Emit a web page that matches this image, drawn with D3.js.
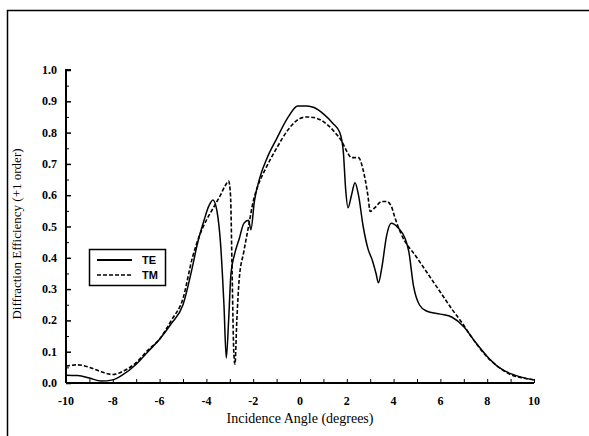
<!DOCTYPE html>
<html>
<head>
<meta charset="utf-8">
<script src="https://cdn.jsdelivr.net/npm/d3@7.9.0/dist/d3.min.js"></script>
<style>
  body { margin: 0; background: #fff; }
  svg { display: block; }
</style>
</head>
<body>
<div id="chart"></div>
<script>
// angles (degrees) and efficiencies
const teAngle = [-10, -9.5, -9, -8.5, -8, -7.6, -7, -6.5, -6, -5.5, -5, -4.6, -4.4, -4.1, -3.9, -3.72, -3.55, -3.4, -3.25, -3.15, -3.05, -2.95, -2.8, -2.6, -2.4, -2.2, -2.1, -1.95, -1.7, -1.4, -1, -0.5, -0.1, 0.3, 0.6, 1, 1.4, 1.7, 1.85, 1.95, 2.05, 2.2, 2.35, 2.5, 2.7, 2.9, 3.1, 3.25, 3.35, 3.5, 3.7, 3.9, 4.2, 4.5, 4.65, 4.85, 5.1, 5.4, 6, 6.5, 7, 7.5, 8, 8.5, 9, 9.5, 10];
const teValue = [0.025, 0.024, 0.016, 0.006, 0.01, 0.025, 0.06, 0.1, 0.14, 0.19, 0.25, 0.37, 0.44, 0.52, 0.565, 0.585, 0.55, 0.45, 0.25, 0.08, 0.2, 0.35, 0.41, 0.46, 0.51, 0.52, 0.49, 0.58, 0.66, 0.72, 0.78, 0.85, 0.885, 0.885, 0.88, 0.86, 0.83, 0.8, 0.74, 0.62, 0.56, 0.6, 0.64, 0.6, 0.5, 0.43, 0.39, 0.35, 0.32, 0.37, 0.47, 0.51, 0.495, 0.46, 0.42, 0.31, 0.25, 0.23, 0.22, 0.21, 0.18, 0.13, 0.085, 0.05, 0.03, 0.018, 0.01];

const tmAngle = [-10, -9.5, -9, -8.5, -8, -7.5, -7, -6.5, -6, -5.5, -5, -4.6, -4.3, -4, -3.7, -3.4, -3.2, -3.05, -2.97, -2.9, -2.83, -2.78, -2.7, -2.6, -2.4, -2.2, -2, -1.8, -1.5, -1, -0.5, 0, 0.3, 0.6, 1, 1.5, 1.8, 2, 2.2, 2.5, 2.7, 2.9, 3, 3.2, 3.5, 3.7, 3.9, 4.05, 4.3, 5, 5.5, 6, 6.5, 6.9, 7.3, 8, 8.5, 9, 9.5, 10];
const tmValue = [0.054, 0.058, 0.05, 0.036, 0.027, 0.04, 0.065, 0.105, 0.14, 0.2, 0.27, 0.4, 0.47, 0.52, 0.56, 0.6, 0.63, 0.645, 0.6, 0.35, 0.1, 0.06, 0.2, 0.33, 0.42, 0.5, 0.58, 0.63, 0.68, 0.75, 0.81, 0.845, 0.85, 0.848, 0.835, 0.8, 0.77, 0.74, 0.72, 0.72, 0.68, 0.6, 0.548, 0.56, 0.58, 0.58, 0.565, 0.53, 0.48, 0.4, 0.345, 0.29, 0.235, 0.195, 0.15, 0.083, 0.05, 0.027, 0.016, 0.01];

const xTicks = [-10, -8, -6, -4, -2, 0, 2, 4, 6, 8, 10];
const yTicks = [0, 0.1, 0.2, 0.3, 0.4, 0.5, 0.6, 0.7, 0.8, 0.9, 1.0];
const legendNames = ['TE', 'TM'];

const width = 589;
const height = 436;

const svg = d3.select('#chart')
  .append('svg')
  .attr('width', width)
  .attr('height', height);

const x = d3.scaleLinear().domain([-10, 10]).range([66, 534]);
const y = d3.scaleLinear().domain([0, 1]).range([383, 70]);

// scanned page frame (left and top edges only)
svg.append('path')
  .attr('d', `M7.5,${height} V10.5 H${width}`)
  .attr('fill', 'none')
  .attr('stroke', '#000')
  .attr('stroke-width', 1.5);

const serif = '"Liberation Serif", "DejaVu Serif", serif';

// y axis, ticks point inward
const yAxis = svg.append('g')
  .attr('transform', `translate(${x(-10)},0)`)
  .call(d3.axisRight(y).tickValues(yTicks).tickSize(5).tickFormat(''));
yAxis.select('.domain').attr('stroke-width', 2).attr('d', `M5,${y(1)}H0V${y(0)}`);
yAxis.selectAll('.tick line').attr('stroke-width', 1.5);
svg.append('g')
  .attr('transform', `translate(${x(-10)},0)`)
  .call(d3.axisRight(y).tickValues(d3.range(0.05, 1, 0.1)).tickSize(3).tickFormat(''))
  .call(g => g.select('.domain').remove());

svg.append('g').selectAll('text')
  .data(yTicks)
  .join('text')
  .attr('x', 57)
  .attr('y', d => y(d) + 4)
  .attr('text-anchor', 'end')
  .attr('font-family', serif)
  .attr('font-weight', 'bold')
  .attr('font-size', 12)
  .text(d => d.toFixed(1));

// x axis, ticks point upward
const xAxis = svg.append('g')
  .attr('transform', `translate(0,${y(0)})`)
  .call(d3.axisTop(x).tickValues(d3.range(-10, 11, 1)).tickSize(4).tickFormat(''));
xAxis.select('.domain').attr('stroke-width', 2).attr('d', `M${x(-10)},0H${x(10)}`);

svg.append('g').selectAll('text')
  .data(xTicks)
  .join('text')
  .attr('x', d => x(d))
  .attr('y', 405)
  .attr('text-anchor', 'middle')
  .attr('font-family', serif)
  .attr('font-weight', 'bold')
  .attr('font-size', 12)
  .text(d => d);

svg.append('text')
  .attr('x', 300)
  .attr('y', 423)
  .attr('text-anchor', 'middle')
  .attr('font-family', serif)
  .attr('font-size', 14)
  .text('Incidence Angle (degrees)');

svg.append('text')
  .attr('transform', 'translate(21,234) rotate(-90)')
  .attr('text-anchor', 'middle')
  .attr('font-family', serif)
  .attr('font-size', 13)
  .text('Diffraction Efficiency (+1 order)');

// curves
const line = d3.line()
  .x(d => x(d[0]))
  .y(d => y(d[1]))
  .curve(d3.curveMonotoneX);

svg.append('path')
  .datum(d3.zip(tmAngle, tmValue))
  .attr('d', line)
  .attr('fill', 'none')
  .attr('stroke', '#000')
  .attr('stroke-width', 1.6)
  .attr('stroke-dasharray', '4,2');

svg.append('path')
  .datum(d3.zip(teAngle, teValue))
  .attr('d', line)
  .attr('fill', 'none')
  .attr('stroke', '#000')
  .attr('stroke-width', 1.5);

// legend
const legend = svg.append('g');
legend.append('rect')
  .attr('x', 89.5).attr('y', 249.5)
  .attr('width', 76).attr('height', 36)
  .attr('fill', '#fff')
  .attr('stroke', '#000')
  .attr('stroke-width', 1.5);

legendNames.forEach((name, i) => {
  const ly = 260 + i * 15;
  legend.append('line')
    .attr('x1', 97).attr('x2', 132)
    .attr('y1', ly).attr('y2', ly)
    .attr('stroke', '#000')
    .attr('stroke-width', i === 0 ? 2 : 1.3)
    .attr('stroke-dasharray', i === 0 ? null : '4,2');
  legend.append('text')
    .attr('x', 142).attr('y', ly + 4)
    .attr('font-family', '"Liberation Sans", Arial, sans-serif')
    .attr('font-weight', 'bold')
    .attr('font-size', 11)
    .text(name);
});
</script>
</body>
</html>
